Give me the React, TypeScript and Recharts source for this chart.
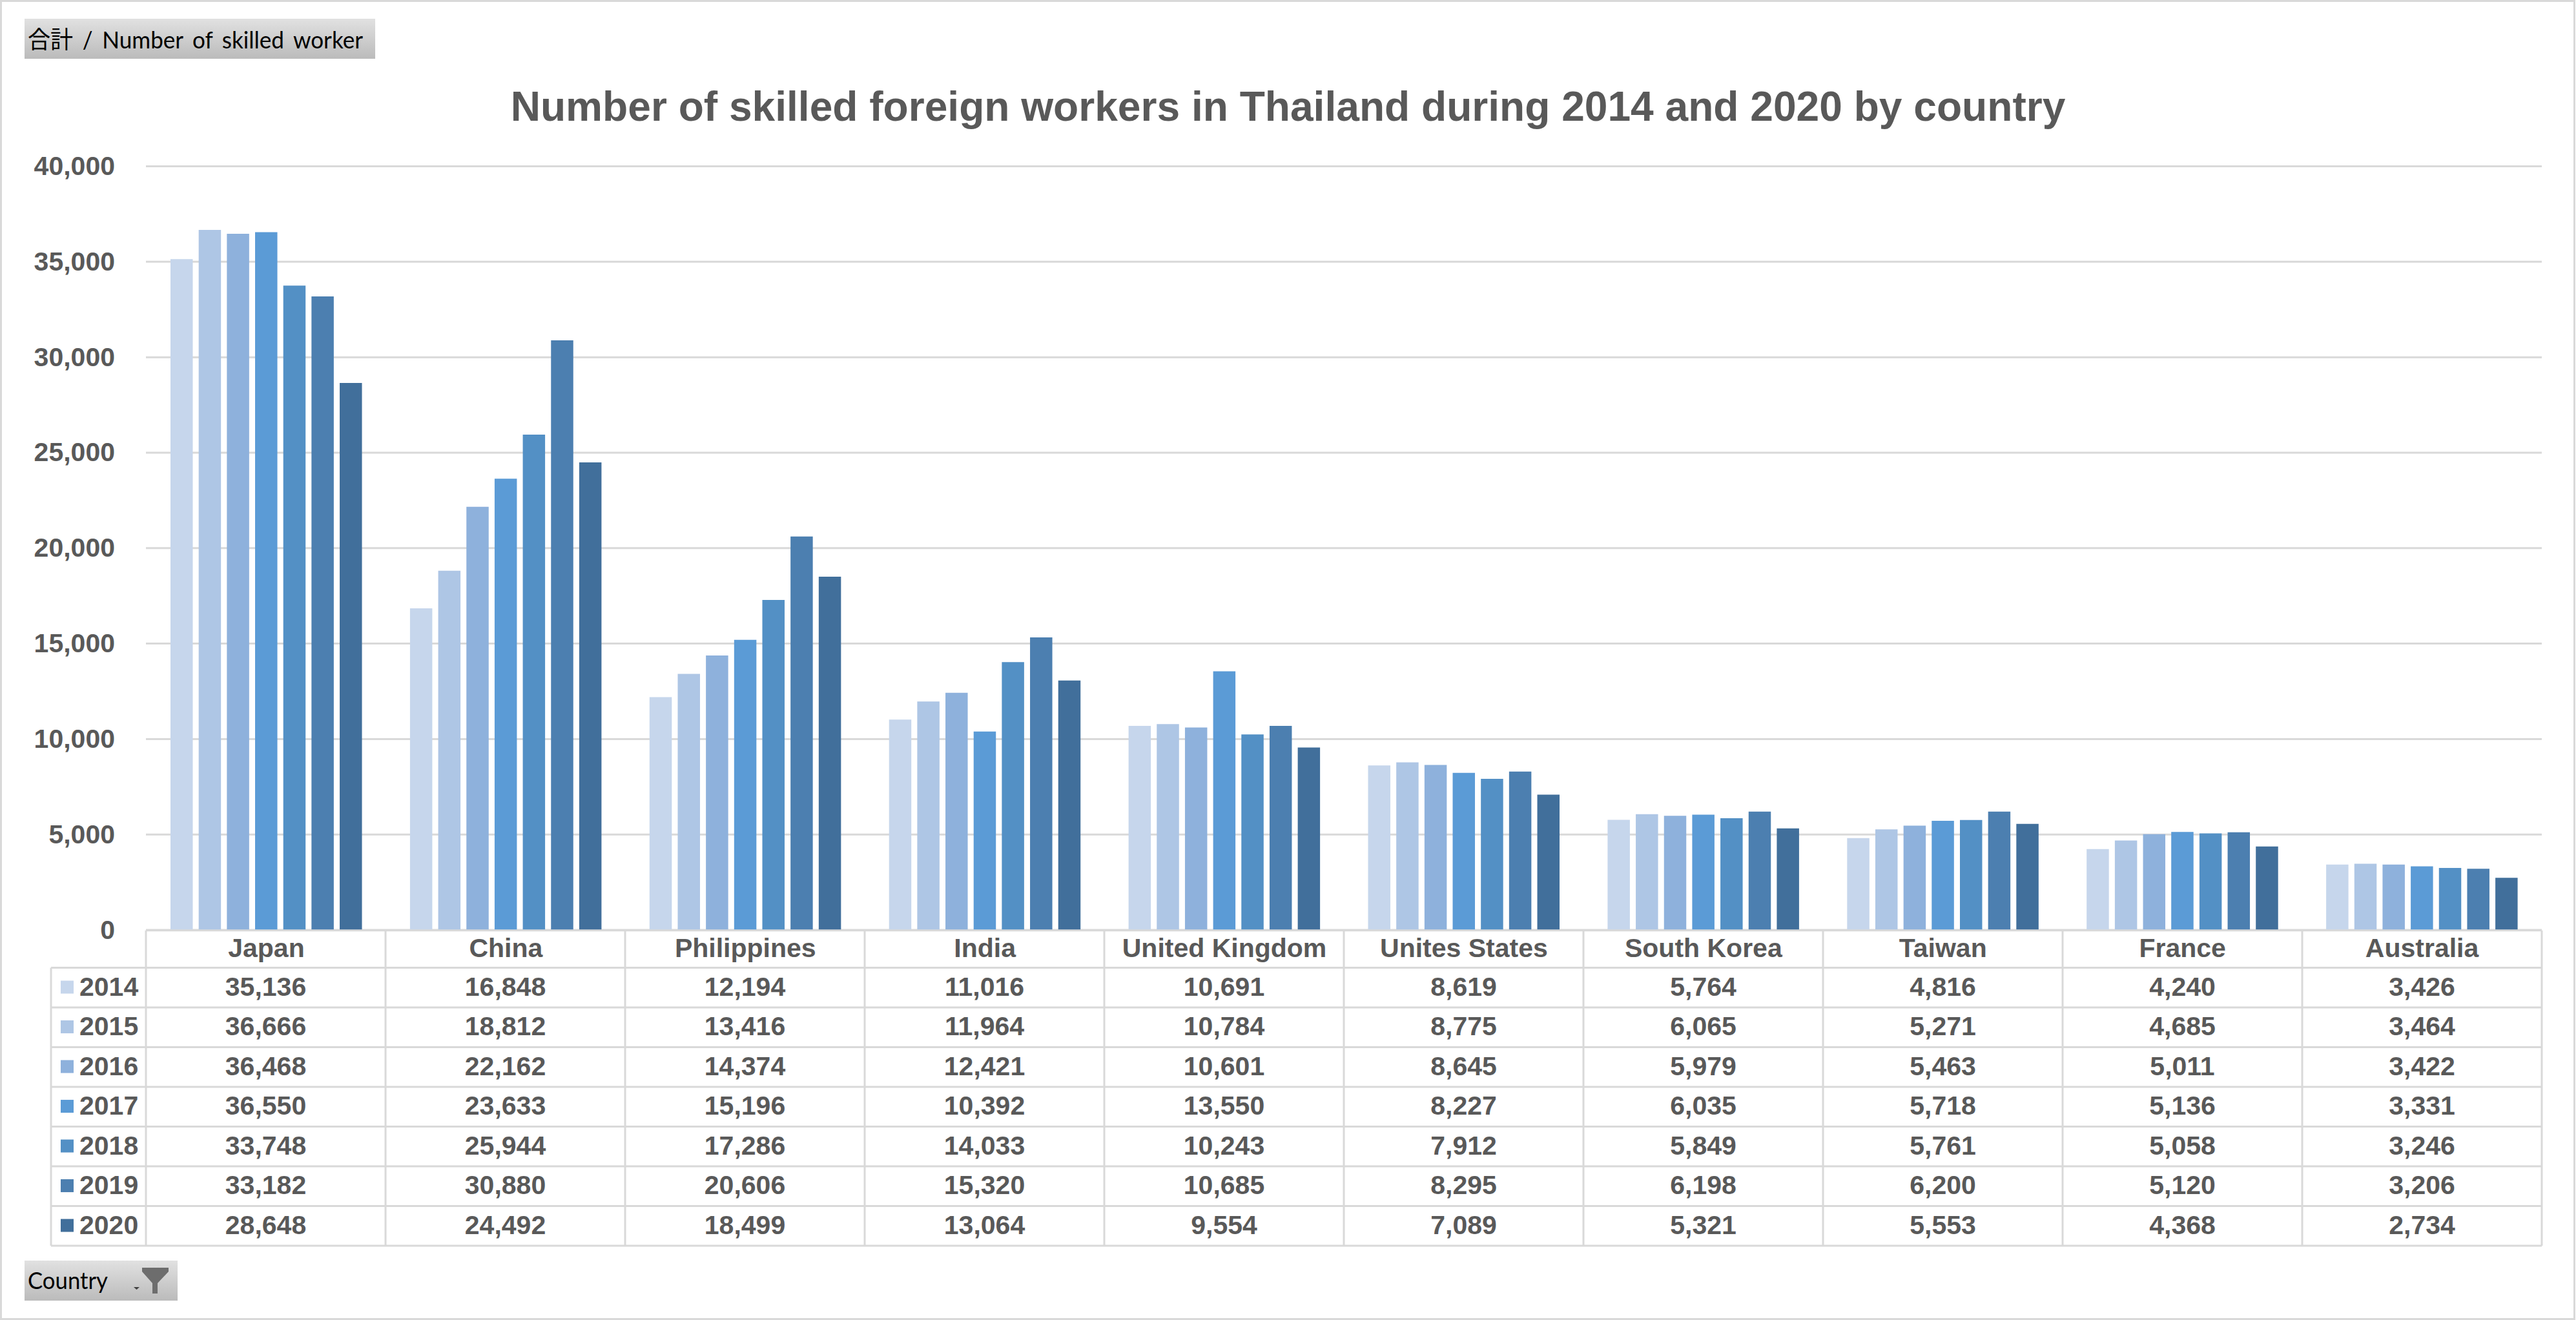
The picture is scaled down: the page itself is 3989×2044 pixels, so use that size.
import React from "react";
import { BarChart, Bar, XAxis, YAxis, CartesianGrid } from "recharts";

const titleText = "Number of skilled foreign workers in Thailand during 2014 and 2020 by country";
const valuePill = "合計 / Number of skilled worker";
const countryPill = "Country";
const countries = ["Japan", "China", "Philippines", "India", "United Kingdom", "Unites States", "South Korea", "Taiwan", "France", "Australia"];
const years = ["2014", "2015", "2016", "2017", "2018", "2019", "2020"];
const v2014 = [35136, 16848, 12194, 11016, 10691, 8619, 5764, 4816, 4240, 3426];
const v2015 = [36666, 18812, 13416, 11964, 10784, 8775, 6065, 5271, 4685, 3464];
const v2016 = [36468, 22162, 14374, 12421, 10601, 8645, 5979, 5463, 5011, 3422];
const v2017 = [36550, 23633, 15196, 10392, 13550, 8227, 6035, 5718, 5136, 3331];
const v2018 = [33748, 25944, 17286, 14033, 10243, 7912, 5849, 5761, 5058, 3246];
const v2019 = [33182, 30880, 20606, 15320, 10685, 8295, 6198, 6200, 5120, 3206];
const v2020 = [28648, 24492, 18499, 13064, 9554, 7089, 5321, 5553, 4368, 2734];
const yTicks = [0, 5000, 10000, 15000, 20000, 25000, 30000, 35000, 40000];
const colors = ["#c6d6ec", "#aec6e5", "#8eb1dc", "#5b9bd6", "#5390c5", "#4c7fb0", "#416f9b"];

const seriesValues = [v2014, v2015, v2016, v2017, v2018, v2019, v2020];
const rows = countries.map((name, i) => {
  const row: Record<string, string | number> = { name };
  years.forEach((y, s) => { row[y] = seriesValues[s][i]; });
  return row;
});

const W = 3989, H = 2044;
const FONT = "'Liberation Sans', Arial, sans-serif";
const PILL_FONT = "Lato,'Noto Sans CJK JP',sans-serif";
const TXT = "#595959";
const LINE = "#d9d9d9";
const PLOT_L = 226, PLOT_R = 3936, PLOT_T = 257.5, PLOT_B = 1440;
const TBL_L = 79, TBL_T = 1440.7, HDR_B = 1498.5, ROW_H = 61.5;
const COL_W = (PLOT_R - PLOT_L) / countries.length;
const fmt = (n: number) => n.toLocaleString("en-US");

function Overlay() {
  const tblB = HDR_B + ROW_H * years.length;
  return (
    <svg width={W} height={H} style={{ position: "absolute", left: 0, top: 0, pointerEvents: "none" }}>
      <defs>
        <linearGradient id="pill" x1="0" y1="0" x2="0" y2="1">
          <stop offset="0" stopColor="#e1e1e1" />
          <stop offset="1" stopColor="#bbbbbb" />
        </linearGradient>
      </defs>
      <rect x={1.5} y={1.5} width={W - 4} height={H - 3} fill="none" stroke={LINE} strokeWidth={3} />
      <rect x={38} y={29} width={543} height={62} fill="url(#pill)" />
      <text x={43} y={75} fontSize={37} fill="#000" fontFamily={PILL_FONT} wordSpacing={6} textLength={519} lengthAdjust="spacingAndGlyphs">{valuePill}</text>
      <text x={W / 2} y={187} textAnchor="middle" fontSize={64.1} fontWeight={700} fill={TXT} fontFamily={FONT}>{titleText}</text>

      {/* data table */}
      <line x1={PLOT_L} x2={PLOT_R} y1={TBL_T} y2={TBL_T} stroke={LINE} strokeWidth={3} />
      <line x1={TBL_L} x2={TBL_L} y1={HDR_B} y2={tblB} stroke={LINE} strokeWidth={3} />
      {countries.map((_, c) => (
        <line key={c} x1={PLOT_L + c * COL_W} x2={PLOT_L + c * COL_W} y1={TBL_T} y2={tblB} stroke={LINE} strokeWidth={3} />
      ))}
      <line x1={PLOT_R} x2={PLOT_R} y1={TBL_T} y2={tblB} stroke={LINE} strokeWidth={3} />
      <line x1={TBL_L} x2={PLOT_R} y1={HDR_B} y2={HDR_B} stroke={LINE} strokeWidth={3} />
      {years.map((y, r) => {
        const top = HDR_B + r * ROW_H;
        const mid = top + ROW_H / 2;
        return (
          <g key={y}>
            <line x1={TBL_L} x2={PLOT_R} y1={top + ROW_H} y2={top + ROW_H} stroke={LINE} strokeWidth={3} />
            <rect x={94} y={mid - 10.7} width={20} height={20} fill={colors[r]} />
            <text x={123} y={mid + 12.5} fontSize={41} fontWeight={700} fill={TXT} fontFamily={FONT}>{y}</text>
            {seriesValues[r].map((v, c) => (
              <text key={c} x={PLOT_L + (c + 0.5) * COL_W} y={mid + 12.5} textAnchor="middle" fontSize={41} fontWeight={700} fill={TXT} fontFamily={FONT}>{fmt(v)}</text>
            ))}
          </g>
        );
      })}

      <rect x={38} y={1952} width={237} height={62} fill="url(#pill)" />
      <text x={43} y={1996} fontSize={37} fill="#000" fontFamily={PILL_FONT} textLength={124} lengthAdjust="spacingAndGlyphs">{countryPill}</text>
      <polygon points="207,1993 216,1993 211.5,1997" fill="#404040" />
      <polygon points="220,1963 261,1963 261,1969 244,1987 244,2003 236,2003 236,1987 220,1969" fill="#6d6d6d" />
    </svg>
  );
}

export default function App() {
  return (
    <div style={{ position: "absolute", left: 0, top: 0, width: W, height: H, background: "#fff", overflow: "hidden" }}>
      <BarChart
        width={W}
        height={H}
        data={rows}
        margin={{ top: PLOT_T, right: W - PLOT_R, bottom: H - PLOT_B - 60, left: 0 }}
        barSize={34.5}
        barGap={9.17}
      >
        <CartesianGrid horizontal vertical={false} stroke={LINE} strokeWidth={3} />
        <XAxis
          dataKey="name"
          interval={0}
          height={60}
          padding={{ left: 1, right: 0 }}
          axisLine={false}
          tickLine={false}
          tickSize={0}
          tickMargin={13}
          tick={{ fontSize: 41, fontWeight: 700, fill: TXT, fontFamily: FONT }}
        />
        <YAxis
          width={PLOT_L}
          domain={[0, 40000]}
          ticks={yTicks}
          axisLine={false}
          tickLine={false}
          tickSize={0}
          tickMargin={48}
          tickFormatter={fmt}
          tick={{ fontSize: 41, fontWeight: 700, fill: TXT, fontFamily: FONT, dy: -1 }}
        />
        {years.map((y, i) => (
          <Bar key={y} dataKey={y} fill={colors[i]} isAnimationActive={false} />
        ))}
      </BarChart>
      <Overlay />
    </div>
  );
}
